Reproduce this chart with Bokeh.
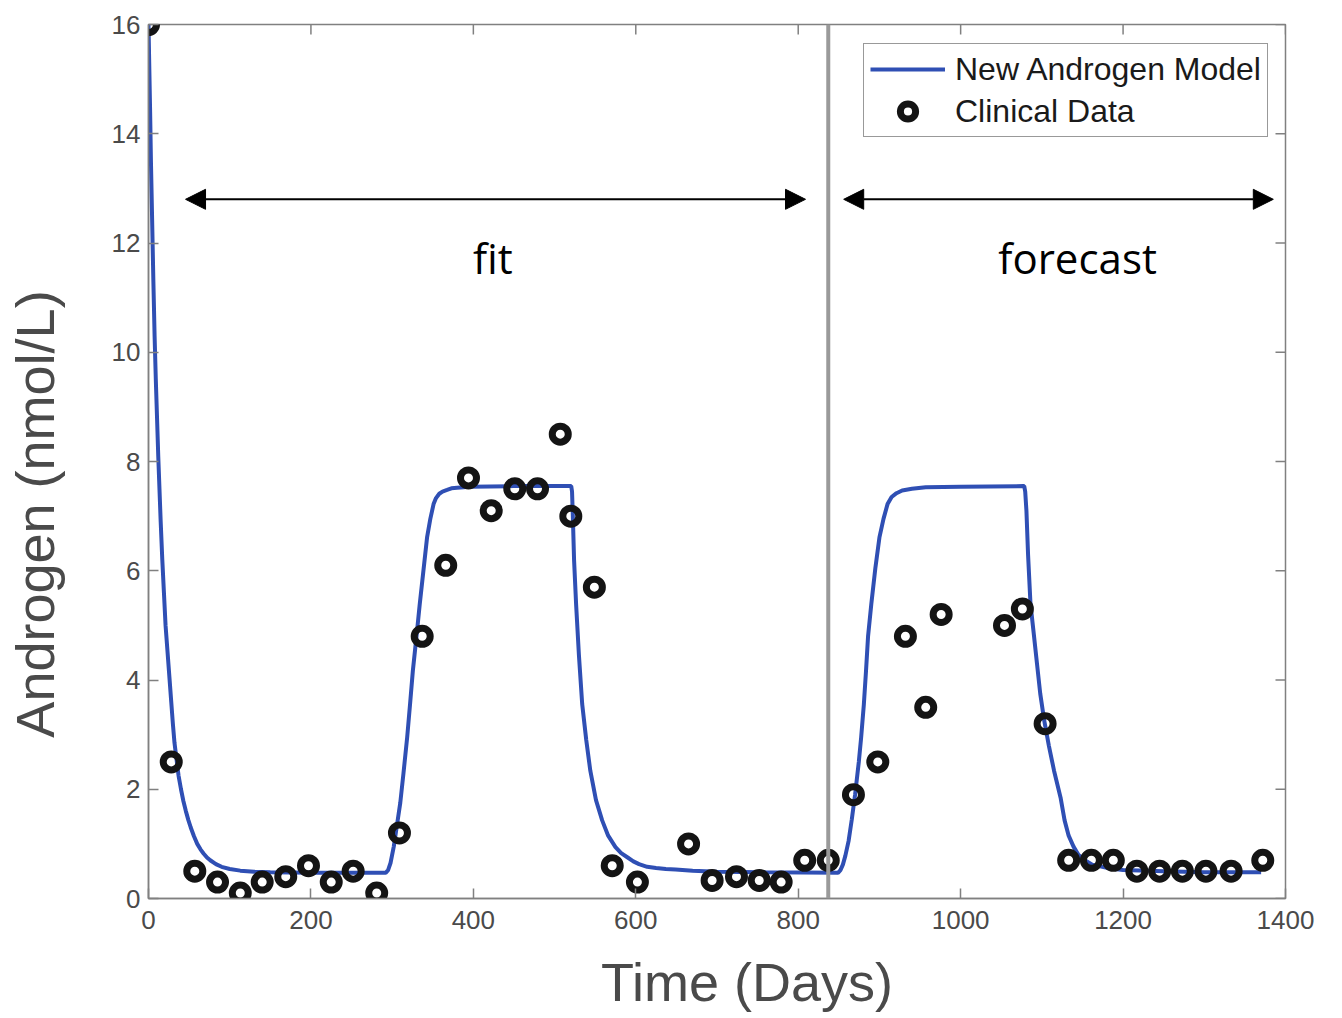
import math
from bokeh.plotting import figure
from bokeh.models import Range1d, FixedTicker, Span, Arrow, NormalHead, Label
from bokeh.embed import file_html
from bokeh.resources import INLINE

# ---------------- data ----------------
clinical_days = [0, 28, 57, 85, 113, 140, 169, 197, 225, 252, 281, 309, 337, 366, 394, 422,
                 451, 479, 507, 520, 549, 571, 602, 665, 694, 724, 752, 779, 808, 837,
                 868, 898, 932, 957, 976, 1054, 1076, 1104, 1133, 1161, 1188, 1217, 1245,
                 1273, 1302, 1333, 1372]
clinical_androgen = [16.0, 2.5, 0.5, 0.3, 0.1, 0.3, 0.4, 0.6, 0.3, 0.5, 0.1, 1.2, 4.8, 6.1, 7.7, 7.1,
                     7.5, 7.5, 8.5, 7.0, 5.7, 0.6, 0.3, 1.0, 0.33, 0.4, 0.33, 0.3, 0.7, 0.7,
                     1.9, 2.5, 4.8, 3.5, 5.2, 5.0, 5.3, 3.2, 0.7, 0.7, 0.7, 0.5, 0.5,
                     0.5, 0.5, 0.5, 0.7]

model_days = [0, 1, 2, 3, 4.5, 6, 7.5, 9, 10.5, 12, 13.5, 15, 17, 19, 21, 23.5, 26, 28, 30, 32,
              34.5, 37, 40, 43, 46, 49, 52, 56, 60, 64, 68, 72, 76, 83, 90, 100, 113, 130, 150,
              200, 250, 292, 295, 298, 302, 306, 310, 314, 318.5, 322, 325.5, 330, 334, 338.5,
              343, 347, 351, 354, 358, 362, 367.6, 373, 380, 388, 396, 450, 520.5, 521.5, 522.4,
              524, 526.5, 530, 534, 539, 544, 551, 558.6, 566, 575, 582, 590, 597, 604, 614, 625,
              637, 649, 670, 700, 760, 849, 852, 855, 858, 862, 866, 870, 874.6, 877.5, 880.8,
              883.5, 886, 890, 895, 900, 905, 910, 915, 921, 928, 940, 957, 1000, 1077.3,
              1078.3, 1079.5, 1081, 1083, 1086, 1090, 1094, 1098, 1103, 1108.6, 1115, 1123,
              1128, 1133, 1139, 1145, 1153, 1162, 1180, 1200, 1250, 1300, 1370]
model_androgen = [16.0, 15.2, 14.4, 13.5, 12.4, 11.3, 10.3, 9.5, 8.8, 8.1, 7.5, 6.9, 6.2, 5.6, 5.0,
                  4.5, 4.0, 3.6, 3.2, 2.85, 2.55, 2.25, 2.0, 1.78, 1.6, 1.44, 1.3, 1.14, 1.0, 0.9,
                  0.82, 0.75, 0.7, 0.63, 0.58, 0.54, 0.51, 0.49, 0.48, 0.47, 0.47, 0.47, 0.52,
                  0.65, 0.95, 1.35, 1.75, 2.3, 2.95, 3.55, 4.17, 4.8, 5.39, 6.0, 6.61, 6.95, 7.22,
                  7.33, 7.41, 7.45, 7.48, 7.51, 7.52, 7.53, 7.54, 7.55, 7.55, 7.45, 7.05, 6.2,
                  5.39, 4.45, 3.56, 2.9, 2.34, 1.8, 1.43, 1.15, 0.94, 0.83, 0.75, 0.68, 0.63,
                  0.58, 0.56, 0.54, 0.53, 0.51, 0.49, 0.48, 0.47, 0.52, 0.62, 0.78, 1.05, 1.45,
                  1.9, 2.5, 2.95, 3.55, 4.17, 4.8, 5.39, 6.05, 6.61, 6.95, 7.22, 7.35, 7.42, 7.47,
                  7.5, 7.53, 7.54, 7.55, 7.55, 7.45, 7.1, 6.3, 5.39, 4.85, 4.3, 3.75, 3.25, 2.8,
                  2.34, 1.85, 1.43, 1.15, 0.95, 0.8, 0.7, 0.62, 0.56, 0.52, 0.5, 0.48, 0.48, 0.48]

x_ticks = [0, 200, 400, 600, 800, 1000, 1200, 1400]
y_ticks = [0, 2, 4, 6, 8, 10, 12, 14, 16]

split_day = 837
fit_arrow = (45.6, 809, 12.8)
forecast_arrow = (856, 1385, 12.8)

# ---------------- figure ----------------
AX = "#808080"
TXT = "#4a4a4a"
FONT = "Liberation Sans"
NB = "\u00a0"

p = figure(width=1342, height=1018, output_backend="svg", toolbar_location=None,
           x_range=Range1d(0, 1400), y_range=Range1d(0, 16),
           min_border_left=148, min_border_right=57, min_border_top=24, min_border_bottom=120)
p.grid.visible = False
p.outline_line_color = AX
p.outline_line_width = 1.5
p.background_fill_color = "white"
p.border_fill_color = "white"

for ax in (p.xaxis[0], p.yaxis[0]):
    ax.axis_line_color = AX
    ax.axis_line_width = 1.5
    ax.major_tick_line_color = AX
    ax.major_tick_line_width = 1.5
    ax.major_tick_in = 10
    ax.major_tick_out = 0
    ax.minor_tick_in = 0
    ax.minor_tick_out = 0
    ax.major_label_text_font = FONT
    ax.major_label_text_font_size = "26px"
    ax.major_label_text_color = TXT
    ax.axis_label_text_font = FONT
    ax.axis_label_text_font_size = "54px"
    ax.axis_label_text_font_style = "normal"
    ax.axis_label_text_color = TXT
p.xaxis[0].ticker = FixedTicker(ticks=x_ticks)
p.yaxis[0].ticker = FixedTicker(ticks=y_ticks)
p.xaxis[0].major_label_standoff = 12
p.yaxis[0].major_label_standoff = 8
p.xaxis[0].axis_label = NB * 4 + "Time (Days)"
p.xaxis[0].axis_label_standoff = 20
p.yaxis[0].axis_label = "Androgen (nmol/L)" + NB * 7
p.yaxis[0].axis_label_standoff = 44

# tick marks on top and right edges of the box
p.scatter(x_ticks, [p.y_range.end] * len(x_ticks), marker="dash", size=20, angle=math.pi / 2,
          line_color=AX, line_width=1.5)
p.scatter([p.x_range.end] * len(y_ticks), y_ticks, marker="dash", size=20,
          line_color=AX, line_width=1.5)

# model curve and data
r_line = p.line(model_days, model_androgen, line_color="#2f4fb4", line_width=4,
                legend_label="New Androgen Model")
r_pts = p.scatter(clinical_days, clinical_androgen, marker="circle", size=16,
                  fill_color=None, line_color="#141414", line_width=7,
                  legend_label="Clinical Data")

p.add_layout(Span(location=split_day, dimension="height", line_color="#9a9a9a", line_width=4))

for xs, xe, y in (fit_arrow, forecast_arrow):
    p.add_layout(Arrow(x_start=xs, y_start=y, x_end=xe, y_end=y, line_color="black", line_width=2,
                       start=NormalHead(size=20, fill_color="black", line_color="black"),
                       end=NormalHead(size=20, fill_color="black", line_color="black")))

p.add_layout(Label(x=424, y=11.74, text="fit", text_align="center", text_baseline="alphabetic",
                   text_font="Open Sans", text_font_size="42px", text_color="black"))
p.add_layout(Label(x=1144, y=11.74, text="forecast", text_align="center", text_baseline="alphabetic",
                   text_font="Open Sans", text_font_size="42px", text_color="black"))

lg = p.legend[0]
lg.location = (715, 761)
lg.border_line_color = "#333333"
lg.border_line_width = 1.5
lg.background_fill_color = "white"
lg.background_fill_alpha = 1
lg.label_text_font = FONT
lg.label_text_font_size = "32px"
lg.label_text_color = "#1a1a1a"
lg.glyph_width = 75
lg.glyph_height = 38
lg.label_height = 38
lg.label_standoff = 10
lg.padding = 6
lg.spacing = 4
lg.margin = 0

open("out.html", "w").write(file_html(p, INLINE))
